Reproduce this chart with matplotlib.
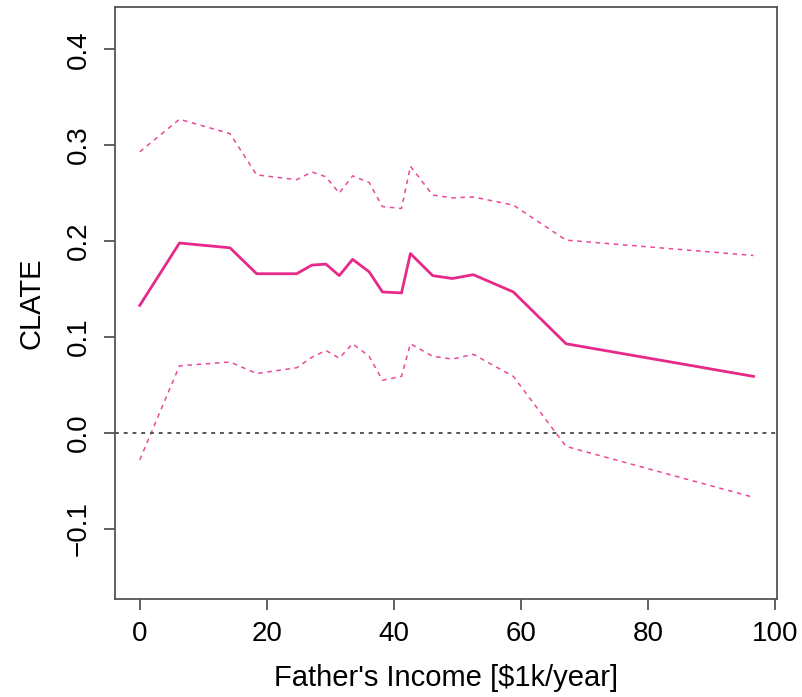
import numpy as np
import matplotlib.pyplot as plt

plt.rcParams['font.family'] = ['Liberation Sans', 'DejaVu Sans']

# father's income grid [$1k/year] and conditional LATE estimates
income = [0.0, 6.25, 14.2, 18.4, 24.7, 27.1, 29.3, 31.4, 33.5, 36.1, 38.2, 41.2,
          42.6, 46.1, 49.2, 52.5, 58.8, 67.1, 96.6]
clate = [0.133, 0.198, 0.193, 0.166, 0.166, 0.175, 0.176, 0.164, 0.181, 0.168, 0.147, 0.146,
         0.187, 0.164, 0.161, 0.165, 0.147, 0.093, 0.059]
upper = [0.293, 0.327, 0.312, 0.269, 0.264, 0.272, 0.267, 0.250, 0.268, 0.261, 0.236, 0.234,
         0.278, 0.248, 0.245, 0.246, 0.2375, 0.201, 0.185]
lower = [-0.028, 0.070, 0.074, 0.062, 0.068, 0.079, 0.086, 0.078, 0.093, 0.080, 0.055, 0.059,
         0.093, 0.080, 0.077, 0.082, 0.059, -0.014, -0.067]

pink = '#e7298a'

fig = plt.figure(figsize=(8.03, 6.97), dpi=100)
ax = fig.add_axes([0.1432, 0.1406, 0.8244, 0.8494])

ax.plot(income, clate, color=pink, lw=2.0)
ax.plot(income, upper, color=pink, lw=1.1, ls=(0, (3, 3)), alpha=0.85)
ax.plot(income, lower, color=pink, lw=1.1, ls=(0, (3, 3)), alpha=0.85)
ax.axhline(0, color='#555555', lw=1.4, ls=(0, (2, 2.5)))

ax.set_xlim(-3.9, 100.3)
ax.set_ylim(-0.173, 0.444)
ax.set_xticks([0, 20, 40, 60, 80, 100])
ax.set_yticks([-0.1, 0.0, 0.1, 0.2, 0.3, 0.4])
ax.set_yticklabels(['\u22120.1', '0.0', '0.1', '0.2', '0.3', '0.4'], rotation=90, va='center')

for s in ax.spines.values():
    s.set_color('#555555')
    s.set_linewidth(1.3)
ax.tick_params(direction='out', length=8, width=1.3, color='#555555', labelsize=20, pad=8)
ax.tick_params(axis='y', pad=9)

ax.set_xlabel("Father's Income [$1k/year]", fontsize=21, labelpad=12)
ax.set_ylabel('CLATE', fontsize=21, labelpad=14)

fig.savefig('out.png', dpi=100)
